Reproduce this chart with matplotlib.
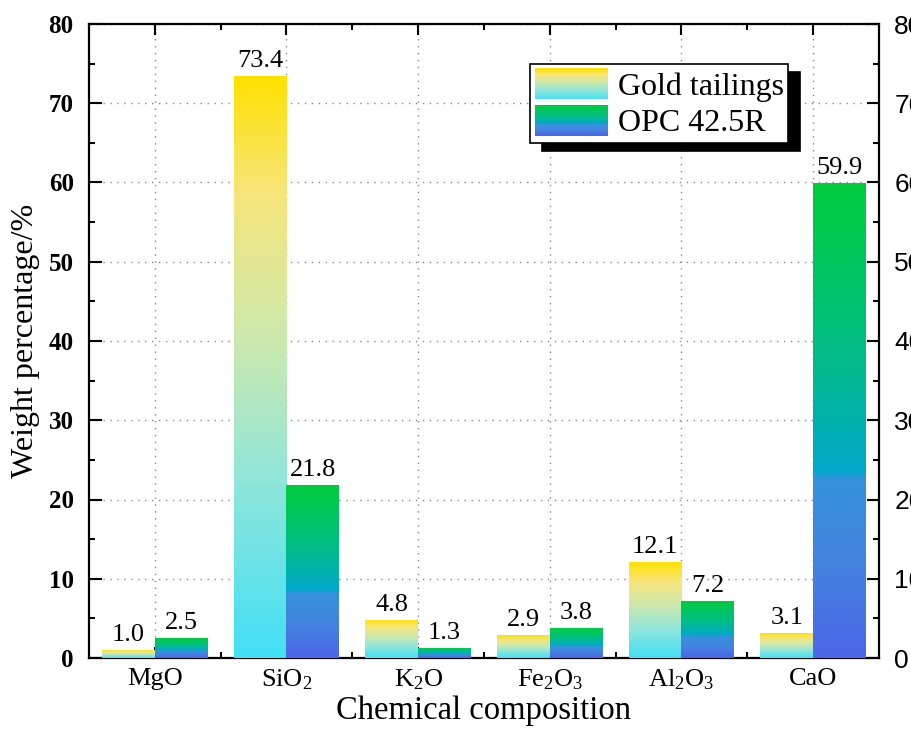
import numpy as np
import matplotlib
matplotlib.use("Agg")
import matplotlib.pyplot as plt
from matplotlib.colors import LinearSegmentedColormap
from matplotlib.patches import Rectangle
from matplotlib.legend_handler import HandlerBase

categories = [r"MgO", r"SiO$_\mathregular{2}$", r"K$_\mathregular{2}$O",
              r"Fe$_\mathregular{2}$O$_\mathregular{3}$", r"Al$_\mathregular{2}$O$_\mathregular{3}$", r"CaO"]
gold_tailings = [1.0, 73.4, 4.8, 2.9, 12.1, 3.1]
opc_425r = [2.5, 21.8, 1.3, 3.8, 7.2, 59.9]
series_names = ["Gold tailings", "OPC 42.5R"]
y_ticks = [0, 10, 20, 30, 40, 50, 60, 70, 80]

plt.rcParams["font.family"] = ["Liberation Serif", "DejaVu Serif"]
plt.rcParams["mathtext.fontset"] = "custom"
plt.rcParams["mathtext.rm"] = "Liberation Serif"
plt.rcParams["mathtext.it"] = "Liberation Serif:italic"

# colormaps: value 0 = bottom, 1 = top
cmap_gold = LinearSegmentedColormap.from_list(
    "gold", [(0.0, "#42E0F6"), (0.3, "#8FE6DA"), (0.55, "#CDE9AE"),
             (0.8, "#F6E57A"), (1.0, "#FFE100")])
cmap_opc = LinearSegmentedColormap.from_list(
    "opc", [(0.0, "#4C66E8"), (0.2, "#4483E0"), (0.38, "#3592DC"),
            (0.39, "#00A8CC"), (0.6, "#00BA90"), (0.85, "#00C75A"), (1.0, "#00CC3E")])

fig = plt.figure(figsize=(9.12, 7.29), dpi=100)
ax = fig.add_axes([89 / 912, 1 - 658 / 729, 790 / 912, 634 / 729])

x = np.arange(len(categories))
w = 0.40
grad = np.linspace(0, 1, 256).reshape(-1, 1)

bars_g = ax.bar(x - w / 2, gold_tailings, w, facecolor="none", edgecolor="none", zorder=3)
bars_o = ax.bar(x + w / 2, opc_425r, w, facecolor="none", edgecolor="none", zorder=3)
for bars, cm in ((bars_g, cmap_gold), (bars_o, cmap_opc)):
    for b in bars:
        x0, y0 = b.get_x(), b.get_y()
        im = ax.imshow(grad, cmap=cm, origin="lower", aspect="auto",
                       extent=(x0, x0 + b.get_width(), y0, y0 + b.get_height()),
                       zorder=3, interpolation="bilinear")
        im.set_clip_path(b)

ax.bar_label(bars_g, labels=[f"{v:.1f}" for v in gold_tailings], padding=3, fontsize=19)
ax.bar_label(bars_o, labels=[f"{v:.1f}" for v in opc_425r], padding=3, fontsize=19)

ax.set_xlim(-0.5, len(categories) - 0.5)
ax.set_ylim(0, 80)
ax.set_xticks(x)
ax.set_xticklabels(categories, fontsize=19)
ax.set_xticks(x[:-1] + 0.5, minor=True)
ax.set_yticks(y_ticks)
ax.set_yticks(np.arange(5, 80, 10), minor=True)
ax.tick_params(axis="x", which="major", direction="in", length=8, width=1.5, top=True, pad=7)
ax.tick_params(axis="x", which="minor", direction="in", length=4, width=1.5, top=True)
ax.tick_params(axis="y", which="major", direction="in", length=9, width=1.5,
               right=True, labelright=True, pad=11)
ax.tick_params(axis="y", which="minor", direction="in", length=4.5, width=1.5, right=True)
for lab in ax.get_yticklabels(which="major"):
    lab.set_fontweight("bold")
    lab.set_fontsize(18)
for t in ax.yaxis.get_major_ticks():
    t.label2.set_fontfamily(["Liberation Sans Narrow", "Liberation Sans", "DejaVu Sans"])
    t.label2.set_fontweight("normal")
    t.label2.set_fontsize(19)
for s in ax.spines.values():
    s.set_linewidth(1.6)

ax.grid(True, which="major", linestyle=(0, (1, 4)), color="#888888", linewidth=1.0, zorder=1)
ax.set_axisbelow(True)

ax.set_ylabel("Weight percentage/%", fontsize=23, labelpad=6)
ax.set_xlabel("Chemical composition", fontsize=23.5, labelpad=2)


class GradientHandler(HandlerBase):
    def __init__(self, cmap):
        super().__init__()
        self.cmap = cmap

    def create_artists(self, legend, orig_handle, xdescent, ydescent, width, height, fontsize, trans):
        n = 40
        arts = []
        for i in range(n):
            r = Rectangle((-xdescent, -ydescent + height * i / n), width, height / n + 0.3,
                          facecolor=self.cmap((i + 0.5) / n), edgecolor="none", transform=trans)
            arts.append(r)
        return arts


h1 = Rectangle((0, 0), 1, 1)
h2 = Rectangle((0, 0), 1, 1)
leg = ax.legend([h1, h2], series_names, loc="upper left", bbox_to_anchor=(0.558, 0.937),
                prop={"size": 23}, handler_map={h1: GradientHandler(cmap_gold), h2: GradientHandler(cmap_opc)},
                handlelength=2.3, handleheight=1.1, handletextpad=0.3, labelspacing=0.1,
                borderpad=0.15, borderaxespad=0, fancybox=False, framealpha=1,
                edgecolor="black", shadow={"color": "black", "alpha": 1, "ox": 8.5, "oy": -6})
leg.get_frame().set_linewidth(1.2)
leg.set_zorder(5)

fig.savefig("out.png", dpi=100)
